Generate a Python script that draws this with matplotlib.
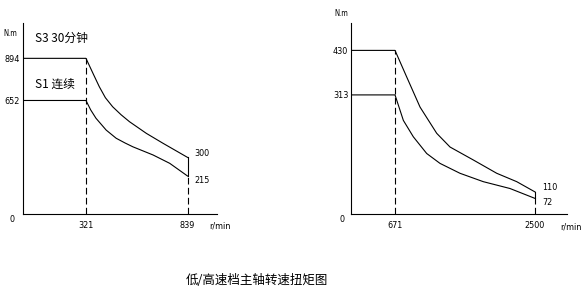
import matplotlib
matplotlib.use("Agg")
import matplotlib.pyplot as plt

plt.rcParams['font.family'] = ['Noto Sans CJK SC', 'DejaVu Sans']

# low speed gear (left)
low_s3_rpm = [0, 321, 360, 389, 420, 457, 500, 543, 629, 714, 839]
low_s3_nm = [894, 894, 800, 731, 668, 616, 570, 530, 463, 406, 325]
low_s1_rpm = [0, 321, 345, 372, 424, 475, 520, 560, 663, 748, 839]
low_s1_nm = [652, 652, 598, 550, 482, 435, 408, 386, 339, 291, 218]
low_yticks = [652, 894]
low_ylabels = ['652', '894']
low_xticks = [321, 839]
low_xlabels = ['321', '839']
low_end_labels = ['300', '215']

# high speed gear (right)
high_s3_rpm = [96, 671, 824, 998, 1216, 1390, 1694, 2000, 2261, 2500]
high_s3_nm = [430, 430, 360, 281, 212, 176, 142, 107, 85, 58]
high_s1_rpm = [96, 671, 780, 910, 1085, 1259, 1520, 1824, 2173, 2500]
high_s1_nm = [313, 313, 246, 203, 159, 133, 107, 85, 67, 41]
high_yticks = [313, 430]
high_ylabels = ['313', '430']
high_xticks = [671, 2500]
high_xlabels = ['671', '2500']
high_end_labels = ['110', '72']

title = '低/高速档主轴转速扭矩图'
s3_label = 'S3 30分钟'
s1_label = 'S1 连续'

lw = 0.8
dash = (0, (6, 3))
nfont = dict(family='DejaVu Sans', stretch='condensed', fontsize=6.5)

fig = plt.figure(figsize=(5.84, 2.95), dpi=100)
ax1 = fig.add_axes([23/584, 81/295, 194/584, 191/295])
ax2 = fig.add_axes([351/584, 81/295, 216/584, 191/295])


def setup(ax, xlim, ylim, xt, xl, yt, yl):
    ax.set_xlim(*xlim)
    ax.set_ylim(*ylim)
    for s in ['top', 'right']:
        ax.spines[s].set_visible(False)
    for s in ['left', 'bottom']:
        ax.spines[s].set_linewidth(lw)
    ax.set_xticks(xt)
    ax.set_xticklabels(xl, **nfont)
    ax.set_yticks(yt)
    ax.set_yticklabels(yl, **nfont)
    ax.tick_params(axis='y', length=0, pad=2)
    ax.tick_params(axis='x', length=0, pad=5)
    ax.patch.set_alpha(0)


# left panel
setup(ax1, (0, 989), (0, 1097), low_xticks, low_xlabels, low_yticks, low_ylabels)
ax1.plot(low_s3_rpm, low_s3_nm, color='black', lw=lw)
ax1.plot(low_s1_rpm, low_s1_nm, color='black', lw=lw)
ax1.plot([low_s3_rpm[1]] * 2, [0, low_s3_nm[1]], color='black', lw=lw, ls=dash)
ax1.plot([low_s3_rpm[-1]] * 2, [0, low_s1_nm[-1]], color='black', lw=lw, ls=dash)
ax1.plot([low_s3_rpm[-1]] * 2, [low_s1_nm[-1], low_s3_nm[-1]], color='black', lw=lw)
ax1.annotate(low_end_labels[0], (low_s3_rpm[-1], low_s3_nm[-1]), xytext=(5, 3),
             textcoords='offset points', va='center', **nfont)
ax1.annotate(low_end_labels[1], (low_s1_rpm[-1], low_s1_nm[-1]), xytext=(5, -3),
             textcoords='offset points', va='center', **nfont)
ax1.text(60, 1010, s3_label, fontsize=8.5, va='center')
ax1.text(60, 745, s1_label, fontsize=8.5, va='center')
fig.text(10/584, 1 - 34/295, 'N.m', ha='center', va='center',
         family='DejaVu Sans', stretch='condensed', fontsize=5.5)
fig.text(12/584, 1 - 219/295, '0', ha='center', va='center', **nfont)
fig.text(220/584, 1 - 226/295, 'r/min', ha='center', va='center', **nfont)

# right panel
setup(ax2, (96, 2918), (0, 502), high_xticks, high_xlabels, high_yticks, high_ylabels)
ax2.plot(high_s3_rpm, high_s3_nm, color='black', lw=lw)
ax2.plot(high_s1_rpm, high_s1_nm, color='black', lw=lw)
ax2.plot([high_s3_rpm[1]] * 2, [0, high_s3_nm[1]], color='black', lw=lw, ls=dash)
ax2.plot([high_s3_rpm[-1]] * 2, [0, high_s1_nm[-1]], color='black', lw=lw, ls=dash)
ax2.plot([high_s3_rpm[-1]] * 2, [high_s1_nm[-1], high_s3_nm[-1]], color='black', lw=lw)
ax2.annotate(high_end_labels[0], (high_s3_rpm[-1], high_s3_nm[-1]), xytext=(5, 3),
             textcoords='offset points', va='center', **nfont)
ax2.annotate(high_end_labels[1], (high_s1_rpm[-1], high_s1_nm[-1]), xytext=(5, -3),
             textcoords='offset points', va='center', **nfont)
fig.text(341/584, 1 - 13/295, 'N.m', ha='center', va='center',
         family='DejaVu Sans', stretch='condensed', fontsize=5.5)
fig.text(342/584, 1 - 219/295, '0', ha='center', va='center', **nfont)
fig.text(571/584, 1 - 227/295, 'r/min', ha='center', va='center', **nfont)

fig.text(257/584, 1 - 280/295, title, fontsize=9, ha='center', va='center')

fig.savefig('out.png', dpi=100, facecolor='white')
